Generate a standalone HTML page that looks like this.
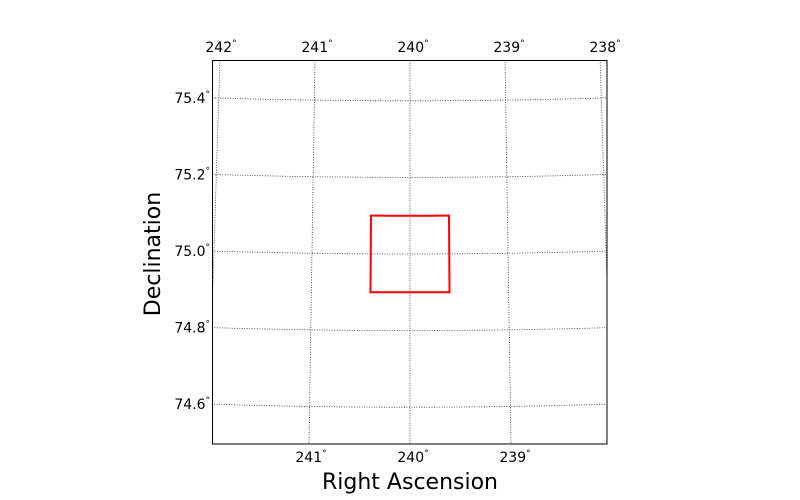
<!DOCTYPE html>
<html><head><meta charset="utf-8"><style>
html,body{margin:0;padding:0;background:#fff}
svg{display:block;font-family:"DejaVu Sans","Liberation Sans",sans-serif}
</style></head><body>
<svg id="chart" width="800" height="500" viewBox="0 0 800 500">
<rect x="0" y="0" width="800" height="500" fill="#fff"/>
<g id="grid"></g>
<g id="marks"></g>
<rect x="212.5" y="60.5" width="394.5" height="383.5" fill="none" stroke="#000" stroke-width="1"/>
<g id="labels"></g>
<text x="160" y="254" font-size="22" text-anchor="middle" transform="rotate(-90 160 254)">Declination</text>
<text x="410" y="489" font-size="22" text-anchor="middle">Right Ascension</text>
</svg>
<script>
const raTicks=[242,241,240,239,238];
const decTicks=[75.4,75.2,75.0,74.8,74.6];
const topRaLabels=[242,241,240,239,238];
const bottomRaLabels=[241,240,239];
const boxRa=[239.6,240.4];
const boxDec=[74.9,75.1];

const X0=212,X1=607,Y0=60,Y1=444,CX=410;
function yCenter(dec){return 254-(dec-75)*383;}
function proj(ra,dec){
  const yc=yCenter(dec);
  const k=95+6*(yc-Y0)/(Y1-Y0);
  const x=CX+(240-ra)*k;
  const u=(x-CX)/198;
  const y=yc-3*u*u;
  return [x,y];
}
const NS='http://www.w3.org/2000/svg';
const grid=document.getElementById('grid');
const marks=document.getElementById('marks');
const labels=document.getElementById('labels');
function clipPath(pts){return pts.map((p,i)=>(i?'L':'M')+p[0].toFixed(1)+' '+p[1].toFixed(1)).join(' ');}
const cp=document.createElementNS(NS,'clipPath');cp.setAttribute('id','clip');
const cr=document.createElementNS(NS,'rect');cr.setAttribute('x',X0);cr.setAttribute('y',Y0);cr.setAttribute('width',X1-X0);cr.setAttribute('height',Y1-Y0);
cp.appendChild(cr);document.getElementById('chart').appendChild(cp);
grid.setAttribute('clip-path','url(#clip)');
raTicks.forEach(ra=>{
  const pts=[];for(let d=74.4;d<=75.6;d+=0.02)pts.push(proj(ra,d));
  const p=document.createElementNS(NS,'path');
  
  
  p.setAttribute('d',clipPath(pts));p.setAttribute('fill','none');p.setAttribute('stroke','#333');p.setAttribute('stroke-width','0.8');p.setAttribute('stroke-dasharray','1,1.5');
  grid.appendChild(p);
});
decTicks.forEach(dec=>{
  const pts=[];for(let r=242.3;r>=237.7;r-=0.05)pts.push(proj(r,dec));
  const p=document.createElementNS(NS,'path');
  
  
  p.setAttribute('d',clipPath(pts));p.setAttribute('fill','none');p.setAttribute('stroke','#333');p.setAttribute('stroke-width','0.8');p.setAttribute('stroke-dasharray','1,1.5');
  grid.appendChild(p);
});
const bp=[];
for(let r=boxRa[0];r<=boxRa[1]+1e-9;r+=0.05)bp.push(proj(r,boxDec[1]));
for(let r=boxRa[1];r>=boxRa[0]-1e-9;r-=0.05)bp.push(proj(r,boxDec[0]));
const box=document.createElementNS(NS,'path');


box.setAttribute('d',clipPath(bp)+' Z');box.setAttribute('fill','none');box.setAttribute('stroke','#f00');box.setAttribute('stroke-width','2');
marks.appendChild(box);
function label(x,y,val,anchor,name){
  const t=document.createElementNS(NS,'text');
  
  
  t.setAttribute('x',x);t.setAttribute('y',y);t.setAttribute('font-size','14');t.setAttribute('text-anchor',anchor);
  t.textContent=val;
  const s=document.createElementNS(NS,'tspan');s.setAttribute('font-size','9');s.setAttribute('dy','-6');s.textContent='°';
  t.appendChild(s);labels.appendChild(t);
}
topRaLabels.forEach(ra=>{const x=CX+(240-ra)*96;label(x+3,52,String(ra),'middle','top-ra-label-'+ra);});
bottomRaLabels.forEach(ra=>{const x=CX+(240-ra)*102;label(x+3,462,String(ra),'middle','bottom-ra-label-'+ra);});
decTicks.forEach(dec=>{const y=yCenter(dec)-3;label(210,y+5,dec.toFixed(1),'end','dec-label-'+dec);});
</script>
</body></html>
